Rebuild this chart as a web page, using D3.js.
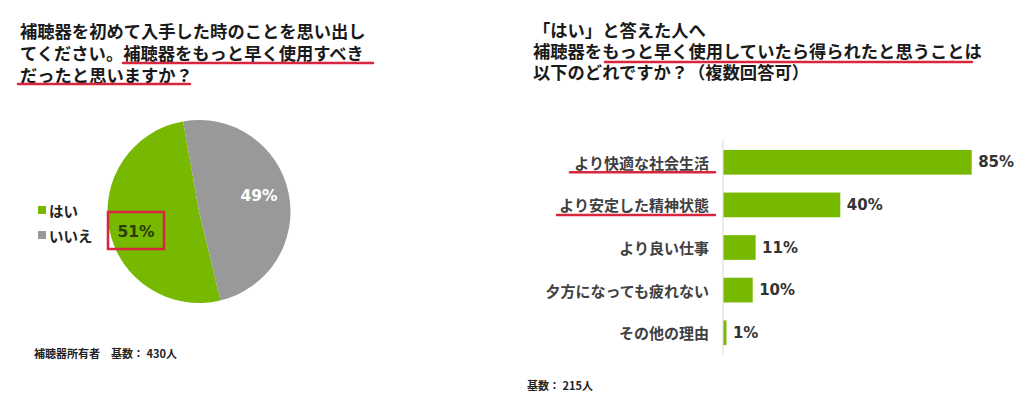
<!DOCTYPE html>
<html>
<head>
<meta charset="utf-8">
<script src="https://cdn.jsdelivr.net/npm/d3@7"></script>
<style>
  body { margin: 0; background: #fff; }
</style>
</head>
<body>
<div id="viz"></div>
<script>
// data
const pieLabels = ["はい", "いいえ"];
const pieValues = [51, 49];
const pieColors = ["#77b800", "#999999"];

const barCategories = ["より快適な社会生活", "より安定した精神状態", "より良い仕事", "夕方になっても疲れない", "その他の理由"];
const barValues = [85, 40, 11, 10, 1];
const underlinedBars = [0, 1];

const leftTitle = ["補聴器を初めて入手した時のことを思い出し", "てください。補聴器をもっと早く使用すべき", "だったと思いますか？"];
const rightTitle = ["「はい」と答えた人へ", "補聴器をもっと早く使用していたら得られたと思うことは", "以下のどれですか？（複数回答可）"];

const width = 1024, height = 419;
const red = "#d7263d";
const jpFont = "'Noto Sans CJK JP', sans-serif";
const numFont = "'DejaVu Sans', sans-serif";

const svg = d3.select("#viz").append("svg")
  .attr("width", width)
  .attr("height", height)
  .style("font-family", jpFont);

// titles
function drawTitle(lines, x, ys) {
  svg.append("g").selectAll("text")
    .data(lines)
    .enter().append("text")
    .attr("x", x)
    .attr("y", (d, i) => ys[i])
    .attr("font-size", 17.3)
    .attr("font-weight", "bold")
    .attr("fill", "#1a1a1a")
    .text(d => d);
}
drawTitle(leftTitle, 20, [38, 60, 82]);
drawTitle(rightTitle, 533, [37, 58, 79]);

// title underlines
const underlines = [
  [123, 373, 63],
  [18, 190, 84],
  [605, 972, 62]
];
svg.append("g").selectAll("line")
  .data(underlines)
  .enter().append("line")
  .attr("x1", d => d[0]).attr("x2", d => d[1])
  .attr("y1", d => d[2]).attr("y2", d => d[2])
  .attr("stroke", red)
  .attr("stroke-width", 2.5)
  .attr("stroke-linecap", "round");

// pie
const cx = 199, cy = 211.5, r = 91.5;
const pie = d3.pie().sort(null)
  .startAngle(-193.6 * Math.PI / 180)
  .endAngle(166.4 * Math.PI / 180);
const arc = d3.arc().innerRadius(0).outerRadius(r);
const arcs = pie(pieValues);
const pg = svg.append("g").attr("transform", `translate(${cx},${cy})`);
pg.selectAll("path")
  .data(arcs)
  .enter().append("path")
  .attr("d", arc)
  .attr("fill", (d, i) => pieColors[i]);

// pie labels
const labelPos = [[-63, 20], [60, -16]];
const labelColor = ["#2b3d05", "#ffffff"];
pg.selectAll("text.pl")
  .data(arcs)
  .enter().append("text")
  .attr("class", "pl")
  .attr("x", (d, i) => labelPos[i][0])
  .attr("y", (d, i) => labelPos[i][1])
  .attr("text-anchor", "middle")
  .attr("dominant-baseline", "central")
  .style("font-family", numFont)
  .attr("font-size", 15.5)
  .attr("font-weight", "bold")
  .attr("fill", (d, i) => labelColor[i])
  .text(d => d.data + "%");

// red box round 51%
svg.append("rect")
  .attr("x", 108).attr("y", 212)
  .attr("width", 56).attr("height", 37)
  .attr("fill", "none")
  .attr("stroke", red)
  .attr("stroke-width", 2.5);

// legend
const lg = svg.append("g").attr("transform", "translate(38,210)");
const li = lg.selectAll("g")
  .data(pieLabels)
  .enter().append("g")
  .attr("transform", (d, i) => `translate(0,${i * 25})`);
li.append("rect")
  .attr("x", 0).attr("y", -4)
  .attr("width", 8).attr("height", 8)
  .attr("fill", (d, i) => pieColors[i]);
li.append("text")
  .attr("x", 11).attr("y", 0)
  .attr("dominant-baseline", "central")
  .attr("font-size", 14.5)
  .attr("font-weight", "bold")
  .attr("fill", "#222")
  .text(d => d);

// bar chart
const x = d3.scaleLinear().domain([0, 100]).range([723, 1015]);
const y = d3.scaleBand().domain(barCategories).range([141, 354]).paddingInner(0.42).paddingOuter(0.21);

svg.append("line")
  .attr("x1", x(0)).attr("x2", x(0))
  .attr("y1", 140).attr("y2", 355)
  .attr("stroke", "#d9d9d9")
  .attr("stroke-width", 1);

svg.append("g").selectAll("rect")
  .data(barValues)
  .enter().append("rect")
  .attr("x", x(0) + 0.5)
  .attr("y", (d, i) => y(barCategories[i]))
  .attr("width", d => x(d) - x(0))
  .attr("height", y.bandwidth())
  .attr("fill", "#77b800");

svg.append("g").selectAll("text")
  .data(barValues)
  .enter().append("text")
  .attr("x", d => x(d) + 7)
  .attr("y", (d, i) => y(barCategories[i]) + y.bandwidth() / 2)
  .attr("dominant-baseline", "central")
  .style("font-family", numFont)
  .attr("font-size", 15)
  .attr("font-weight", "bold")
  .attr("fill", "#333")
  .text(d => d + "%");

svg.append("g").selectAll("text")
  .data(barCategories)
  .enter().append("text")
  .attr("x", 709)
  .attr("y", d => y(d) + y.bandwidth() / 2)
  .attr("text-anchor", "end")
  .attr("dominant-baseline", "central")
  .attr("font-size", 15)
  .attr("font-weight", "bold")
  .attr("fill", "#404040")
  .text(d => d);

// underline for the first two categories
const catUnderStart = [570, 557];
svg.append("g").selectAll("line")
  .data(underlinedBars)
  .enter().append("line")
  .attr("x1", (d, i) => catUnderStart[i])
  .attr("x2", 715)
  .attr("y1", d => y(barCategories[d]) + y.bandwidth() / 2 + 10)
  .attr("y2", d => y(barCategories[d]) + y.bandwidth() / 2 + 10)
  .attr("stroke", red)
  .attr("stroke-width", 2.5)
  .attr("stroke-linecap", "round");

// footnotes
svg.append("text")
  .attr("x", 34).attr("y", 358)
  .attr("font-size", 11)
  .attr("font-weight", "bold")
  .attr("fill", "#222")
  .text("補聴器所有者　基数： 430人");
svg.append("text")
  .attr("x", 527).attr("y", 390)
  .attr("font-size", 11)
  .attr("font-weight", "bold")
  .attr("fill", "#222")
  .text("基数： 215人");
</script>
</body>
</html>
